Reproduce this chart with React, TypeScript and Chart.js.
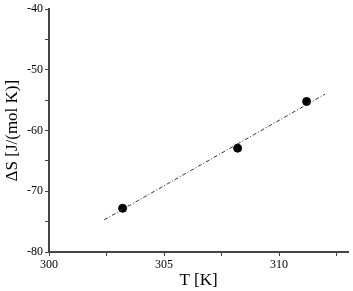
import React, { useEffect, useRef } from "react";
import { Chart, registerables } from "chart.js";

Chart.register(...registerables);

const temperatures = [303.2, 308.2, 311.2];
const entropies = [-72.8, -62.9, -55.2];
const fitT = [302.4, 312.0];
const fitS = [-74.7, -54.0];

const xMin = 300;
const xMax = 313;
const yMin = -80;
const yMax = -40;

export default function App() {
  const ref = useRef<HTMLCanvasElement | null>(null);
  useEffect(() => {
    document.body.style.margin = "0";
    const ctx = ref.current!;
    const font = "'Liberation Serif', 'Times New Roman', serif";
    const chart = new Chart(ctx, {
      type: "scatter",
      data: {
        datasets: [
          {
            type: "line",
            data: fitT.map((t, i) => ({ x: t, y: fitS[i] })),
            borderColor: "#333",
            borderWidth: 1,
            borderDash: [4, 2, 1, 2],
            pointRadius: 0,
            fill: false,
          },
          {
            type: "scatter",
            data: temperatures.map((t, i) => ({ x: t, y: entropies[i] })),
            backgroundColor: "#000",
            borderColor: "#000",
            pointRadius: 4,
          },
        ],
      },
      options: {
        animation: false,
        responsive: false,
        plugins: { legend: { display: false }, tooltip: { enabled: false } },
        layout: { padding: { top: 7, right: 2, left: 2, bottom: 0 } },
        scales: {
          x: {
            type: "linear",
            min: xMin,
            max: xMax,
            afterFit: (s: any) => {
              s.height = 39;
            },
            afterBuildTicks: (s: any) => {
              const t = [];
              for (let v = 300; v <= 313; v += 2.5) t.push({ value: v });
              s.ticks = t;
            },
            ticks: {
              autoSkip: false,
              maxRotation: 0,
              padding: 2,
              color: "#000",
              font: { family: font, size: 12 },
              callback: (v: any) => (Number(v) % 5 === 0 ? String(v) : ""),
            },
            grid: {
              drawOnChartArea: false,
              drawTicks: true,
              tickLength: 4,
              color: "#444",
              lineWidth: 1,
            },
            border: { display: true, color: "#444", width: 2 },
            title: {
              display: true,
              text: "T [K]",
              color: "#000",
              font: { family: font, size: 17 },
              padding: { top: 0, bottom: 0 },
            },
          },
          y: {
            type: "linear",
            min: yMin,
            max: yMax,
            afterFit: (s: any) => {
              s.width = 47;
            },
            afterBuildTicks: (s: any) => {
              const t = [];
              for (let v = -80; v <= -40; v += 5) t.push({ value: v });
              s.ticks = t;
            },
            ticks: {
              autoSkip: false,
              padding: 2,
              color: "#000",
              font: { family: font, size: 12 },
              callback: (v: any) => (Number(v) % 10 === 0 ? String(v) : ""),
            },
            grid: {
              drawOnChartArea: false,
              drawTicks: true,
              tickLength: 4,
              color: "#444",
              lineWidth: 1,
            },
            border: { display: true, color: "#444", width: 2 },
            title: {
              display: true,
              text: "ΔS [J/(mol K)]",
              color: "#000",
              font: { family: font, size: 17 },
              padding: { top: 0, bottom: 0 },
            },
          },
        },
      },
    });
    return () => chart.destroy();
  }, []);
  return <canvas ref={ref} width={353} height={291} style={{ display: "block" }} />;
}
